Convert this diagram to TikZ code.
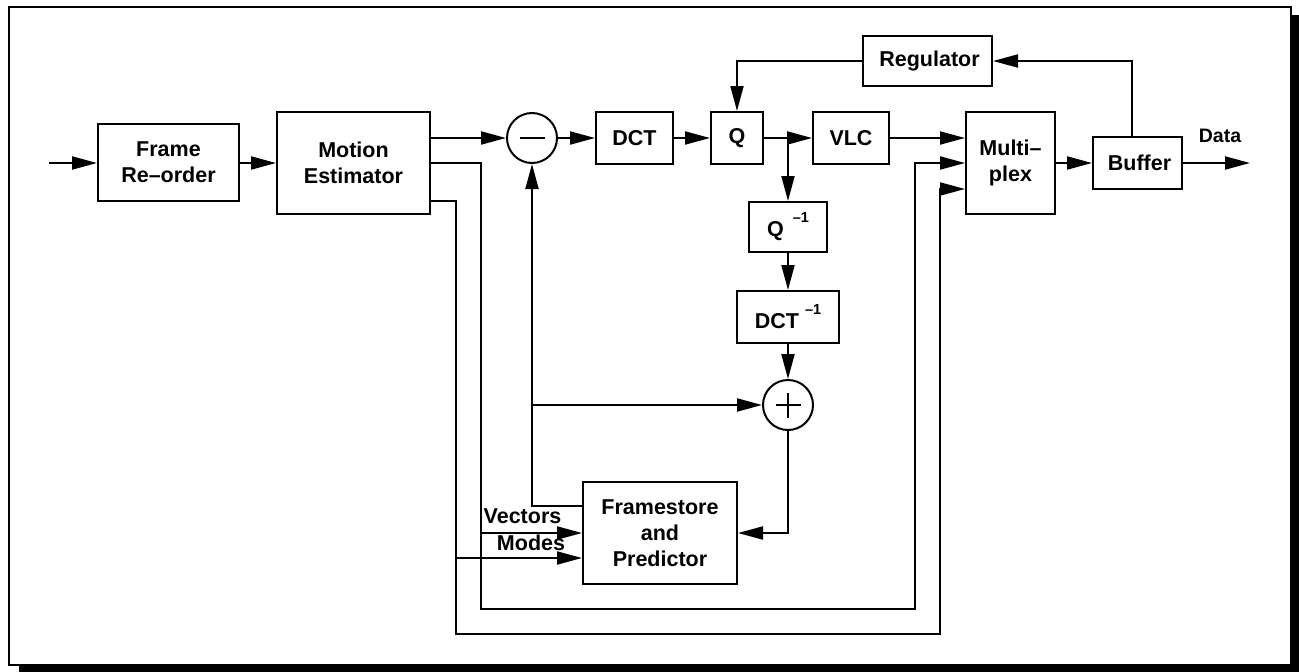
\documentclass[tikz,border=0pt]{standalone}
\usepackage{fontspec}
\setmainfont{Liberation Sans}
\usetikzlibrary{arrows.meta}
\begin{document}
\begin{tikzpicture}[x=1pt,y=-1pt,line width=2pt,
  blk/.style={draw,fill=white,inner sep=0pt,align=center,
    font=\bfseries\fontsize{21.5}{26}\selectfont},
  sumnode/.style={draw,circle,fill=white,inner sep=0pt,minimum size=50pt},
  lbl/.style={inner sep=0pt,font=\bfseries\fontsize{21.5}{26}\selectfont},
  arr/.style={-{Triangle[length=25pt,width=13pt]}}]
\useasboundingbox (0,0) rectangle (1299,672);
% frame with shadow
\fill[black] (19,15) rectangle (1299,672);
\draw[fill=white,line width=2.5pt] (9,7) rectangle (1291,665);
% blocks
\node[blk,minimum width=141pt,minimum height=77pt] (fr) at (168.5,162.5) {Frame\\Re–order};
\node[blk,minimum width=153pt,minimum height=102pt] (me) at (353.5,163) {Motion\\Estimator};
\node[sumnode] (minus) at (532,138) {};
\node[blk,minimum width=77pt,minimum height=52pt] (dct) at (634.5,138) {DCT};
\node[blk,minimum width=52pt,minimum height=52pt] (q) at (737,138) {Q};
\node[blk,minimum width=76pt,minimum height=52pt] (vlc) at (851,138) {VLC};
\node[blk,minimum width=78pt,minimum height=50pt] (qi) at (788,227)
  {Q\hspace{9pt}\raisebox{14pt}{\fontsize{14.5}{14}\selectfont –1}};
\node[blk,minimum width=102pt,minimum height=52pt] (dcti) at (788,317)
  {DCT\hspace{6pt}\raisebox{14pt}{\fontsize{14.5}{14}\selectfont –1}};
\node[sumnode] (plus) at (788,405) {};
\node[blk,minimum width=154pt,minimum height=102pt] (fs) at (660,533) {Framestore\\and\\Predictor};
\node[blk,minimum width=89pt,minimum height=102pt] (mux) at (1010.5,163) {Multi–\\plex};
\node[blk,minimum width=89pt,minimum height=52pt] (buf) at (1137.5,163) {\hspace{4pt}Buffer};
\node[blk,minimum width=129pt,minimum height=50pt] (reg) at (927.5,61) {\hspace{4pt}Regulator};
% signs
\draw[line width=2pt] ([xshift=-12.5pt]minus.center) -- ([xshift=12.5pt]minus.center);
\draw[line width=1.5pt] ([xshift=-12.5pt]plus.center) -- ([xshift=12.5pt]plus.center);
\draw[line width=1.5pt] ([yshift=-12.5pt]plus.center) -- ([yshift=12.5pt]plus.center);
% coordinates
\coordinate (in) at (49,163);
\coordinate (out) at (1250,163);
\coordinate (v1) at (481,609);
\coordinate (v2) at (915,609);
\coordinate (m1) at (456,634);
\coordinate (m2) at (940,634);
\coordinate (me3) at ([yshift=-38pt]me.east);
\coordinate (mux3) at ([yshift=-26pt]mux.west);
\coordinate (fsm) at ([yshift=-25pt]fs.west);
\coordinate (fst) at ([yshift=-25pt]fs.north west);
\coordinate (buft) at ([xshift=-5.5pt]buf.north);
% connectors
\draw[arr] (in) -- (fr.west |- in);
\draw[arr] (fr.east |- me.west) -- (me.west);
\draw[arr] (me.east |- minus.west) -- (minus.west);
\draw[arr] (minus.east) -- (dct.west);
\draw[arr] (dct.east) -- (q.west);
\draw[arr] (q.east) -- (vlc.west);
\draw[arr] (qi.north |- q.east) -- (qi.north);
\draw[arr] (qi.south) -- (dcti.north);
\draw[arr] (dcti.south) -- (plus.north);
\draw[arr] (plus.south) |- (fs.east);
\draw[arr] (fst) -| (minus.south);
\draw[arr] (minus.south |- plus.west) -- (plus.west);
\draw[arr] (me.east) -| (v1) -- (v2) |- (mux.west);
\draw[arr] (v1 |- fs.west) -- (fs.west);
\draw[arr] (me3) -| (m1) -- (m2) |- (mux3);
\draw[arr] (m1 |- fsm) -- (fsm);
\draw[arr] (vlc.east) -- (vlc.east -| mux.west);
\draw[arr] (mux.east |- buf.west) -- (buf.west);
\draw[arr] (buf.east) -- (out);
\draw[arr] (buft) |- (reg.east);
\draw[arr] (reg.west) -| (q.north);
% labels
\node[lbl] (data) at (1220,135.5) {\fontsize{19.5}{19}\selectfont Data};
\node[lbl] (vec) at (522.5,516.5) {Vectors};
\node[lbl] (mod) at (531,542.5) {Modes};
\end{tikzpicture}
\end{document}
